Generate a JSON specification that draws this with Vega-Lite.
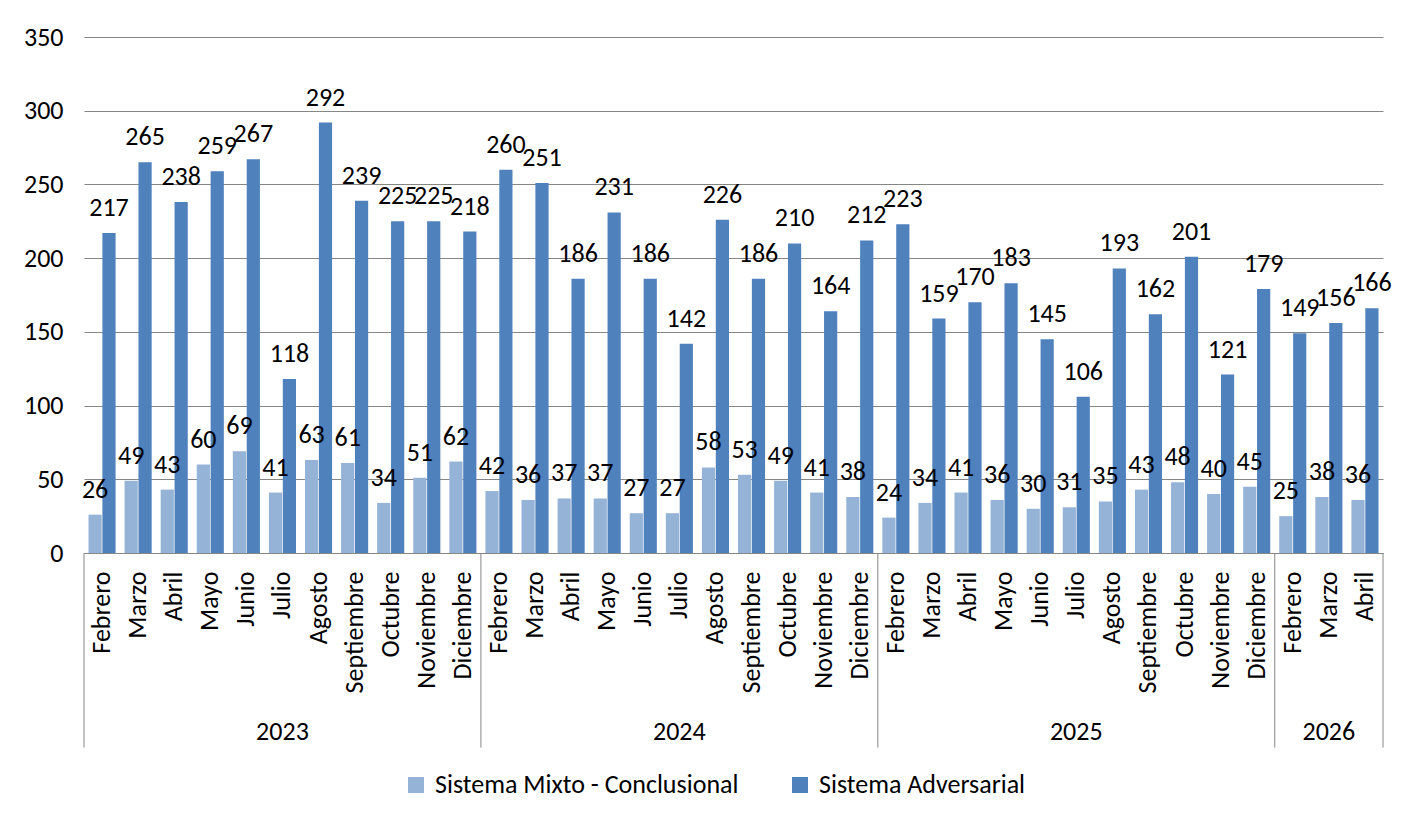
{
  "$schema": "https://vega.github.io/schema/vega-lite/v6.json",
  "width": 1299,
  "height": 516,
  "autosize": {"type": "none"},
  "padding": {"left": 84, "top": 37, "right": 34, "bottom": 270},
  "background": "white",
  "config": {
    "font": "Carlito, Lato",
    "view": {"stroke": null},
    "axisY": {
      "domain": false, "ticks": false, "labelPadding": 21, "labelFontSize": 26,
      "labelColor": "#000000", "gridColor": "#868686", "gridWidth": 1, "title": null
    },
    "axisX": {
      "domainColor": "#868686", "domainWidth": 1, "ticks": false, "labelAngle": -90,
      "labelPadding": 18, "labelFontSize": 26, "labelColor": "#000000", "grid": false,
      "title": null, "labelOverlap": false
    }
  },
  "data": {"values": [
    {"k": "2023-Febrero", "yr": "2023", "Sistema Mixto - Conclusional": 26, "Sistema Adversarial": 217},
    {"k": "2023-Marzo", "yr": "2023", "Sistema Mixto - Conclusional": 49, "Sistema Adversarial": 265},
    {"k": "2023-Abril", "yr": "2023", "Sistema Mixto - Conclusional": 43, "Sistema Adversarial": 238},
    {"k": "2023-Mayo", "yr": "2023", "Sistema Mixto - Conclusional": 60, "Sistema Adversarial": 259},
    {"k": "2023-Junio", "yr": "2023", "Sistema Mixto - Conclusional": 69, "Sistema Adversarial": 267},
    {"k": "2023-Julio", "yr": "2023", "Sistema Mixto - Conclusional": 41, "Sistema Adversarial": 118},
    {"k": "2023-Agosto", "yr": "2023", "Sistema Mixto - Conclusional": 63, "Sistema Adversarial": 292},
    {"k": "2023-Septiembre", "yr": "2023", "Sistema Mixto - Conclusional": 61, "Sistema Adversarial": 239},
    {"k": "2023-Octubre", "yr": "2023", "Sistema Mixto - Conclusional": 34, "Sistema Adversarial": 225},
    {"k": "2023-Noviembre", "yr": "2023", "Sistema Mixto - Conclusional": 51, "Sistema Adversarial": 225},
    {"k": "2023-Diciembre", "yr": "2023", "Sistema Mixto - Conclusional": 62, "Sistema Adversarial": 218},
    {"k": "2024-Febrero", "yr": "2024", "Sistema Mixto - Conclusional": 42, "Sistema Adversarial": 260},
    {"k": "2024-Marzo", "yr": "2024", "Sistema Mixto - Conclusional": 36, "Sistema Adversarial": 251},
    {"k": "2024-Abril", "yr": "2024", "Sistema Mixto - Conclusional": 37, "Sistema Adversarial": 186},
    {"k": "2024-Mayo", "yr": "2024", "Sistema Mixto - Conclusional": 37, "Sistema Adversarial": 231},
    {"k": "2024-Junio", "yr": "2024", "Sistema Mixto - Conclusional": 27, "Sistema Adversarial": 186},
    {"k": "2024-Julio", "yr": "2024", "Sistema Mixto - Conclusional": 27, "Sistema Adversarial": 142},
    {"k": "2024-Agosto", "yr": "2024", "Sistema Mixto - Conclusional": 58, "Sistema Adversarial": 226},
    {"k": "2024-Septiembre", "yr": "2024", "Sistema Mixto - Conclusional": 53, "Sistema Adversarial": 186},
    {"k": "2024-Octubre", "yr": "2024", "Sistema Mixto - Conclusional": 49, "Sistema Adversarial": 210},
    {"k": "2024-Noviembre", "yr": "2024", "Sistema Mixto - Conclusional": 41, "Sistema Adversarial": 164},
    {"k": "2024-Diciembre", "yr": "2024", "Sistema Mixto - Conclusional": 38, "Sistema Adversarial": 212},
    {"k": "2025-Febrero", "yr": "2025", "Sistema Mixto - Conclusional": 24, "Sistema Adversarial": 223},
    {"k": "2025-Marzo", "yr": "2025", "Sistema Mixto - Conclusional": 34, "Sistema Adversarial": 159},
    {"k": "2025-Abril", "yr": "2025", "Sistema Mixto - Conclusional": 41, "Sistema Adversarial": 170},
    {"k": "2025-Mayo", "yr": "2025", "Sistema Mixto - Conclusional": 36, "Sistema Adversarial": 183},
    {"k": "2025-Junio", "yr": "2025", "Sistema Mixto - Conclusional": 30, "Sistema Adversarial": 145},
    {"k": "2025-Julio", "yr": "2025", "Sistema Mixto - Conclusional": 31, "Sistema Adversarial": 106},
    {"k": "2025-Agosto", "yr": "2025", "Sistema Mixto - Conclusional": 35, "Sistema Adversarial": 193},
    {"k": "2025-Septiembre", "yr": "2025", "Sistema Mixto - Conclusional": 43, "Sistema Adversarial": 162},
    {"k": "2025-Octubre", "yr": "2025", "Sistema Mixto - Conclusional": 48, "Sistema Adversarial": 201},
    {"k": "2025-Noviembre", "yr": "2025", "Sistema Mixto - Conclusional": 40, "Sistema Adversarial": 121},
    {"k": "2025-Diciembre", "yr": "2025", "Sistema Mixto - Conclusional": 45, "Sistema Adversarial": 179},
    {"k": "2026-Febrero", "yr": "2026", "Sistema Mixto - Conclusional": 25, "Sistema Adversarial": 149},
    {"k": "2026-Marzo", "yr": "2026", "Sistema Mixto - Conclusional": 38, "Sistema Adversarial": 156},
    {"k": "2026-Abril", "yr": "2026", "Sistema Mixto - Conclusional": 36, "Sistema Adversarial": 166}
  ]},
  "encoding": {
    "x": {
      "field": "k", "type": "nominal", "sort": null,
      "scale": {
        "paddingInner": 0, "paddingOuter": 0,
        "domain": ["2023-Febrero","2023-Marzo","2023-Abril","2023-Mayo","2023-Junio","2023-Julio","2023-Agosto","2023-Septiembre","2023-Octubre","2023-Noviembre","2023-Diciembre",
                   "2024-Febrero","2024-Marzo","2024-Abril","2024-Mayo","2024-Junio","2024-Julio","2024-Agosto","2024-Septiembre","2024-Octubre","2024-Noviembre","2024-Diciembre",
                   "2025-Febrero","2025-Marzo","2025-Abril","2025-Mayo","2025-Junio","2025-Julio","2025-Agosto","2025-Septiembre","2025-Octubre","2025-Noviembre","2025-Diciembre",
                   "2026-Febrero","2026-Marzo","2026-Abril"]
      },
      "axis": {"labelExpr": "split(datum.label, '-')[1]"}
    }
  },
  "layer": [
    {
      "transform": [{"fold": ["Sistema Mixto - Conclusional", "Sistema Adversarial"], "as": ["serie", "valor"]}],
      "encoding": {
        "xOffset": {
          "field": "serie", "type": "nominal",
          "scale": {"domain": ["Sistema Mixto - Conclusional", "Sistema Adversarial"], "paddingInner": 0.05, "paddingOuter": 0.324}
        },
        "y": {
          "field": "valor", "type": "quantitative",
          "scale": {"domain": [0, 350], "nice": false},
          "axis": {"values": [0, 50, 100, 150, 200, 250, 300, 350], "grid": true}
        }
      },
      "layer": [
        {
          "mark": {"type": "bar"},
          "encoding": {
            "color": {
              "field": "serie", "type": "nominal",
              "scale": {"domain": ["Sistema Mixto - Conclusional", "Sistema Adversarial"], "range": ["#95B3D7", "#4F81BD"]},
              "legend": {
                "title": null, "orient": "none", "direction": "horizontal",
                "legendX": 319, "legendY": 735, "padding": 0,
                "symbolType": "square", "symbolSize": 256, "symbolStrokeWidth": 0,
                "labelFontSize": 26, "labelColor": "#000000", "labelOffset": 6, "columnPadding": 48,
                "labelLimit": 500
              }
            }
          }
        },
        {
          "mark": {"type": "text", "baseline": "alphabetic", "align": "center", "dy": -17, "fontSize": 26, "color": "#000000"},
          "encoding": {"text": {"field": "valor", "type": "quantitative"}}
        }
      ]
    },
    {
      "transform": [{"filter": {"field": "k", "oneOf": ["2023-Febrero", "2024-Febrero", "2025-Febrero", "2026-Febrero"]}}],
      "mark": {"type": "rule", "color": "#868686", "strokeWidth": 1},
      "encoding": {
        "x": {"field": "k", "type": "nominal", "bandPosition": 0},
        "y": {"datum": 0},
        "y2": {"datum": -132}
      }
    },
    {
      "transform": [{"filter": {"field": "k", "oneOf": ["2026-Abril"]}}],
      "mark": {"type": "rule", "color": "#868686", "strokeWidth": 1},
      "encoding": {
        "x": {"field": "k", "type": "nominal", "bandPosition": 1},
        "y": {"datum": 0},
        "y2": {"datum": -132}
      }
    },
    {
      "transform": [{"filter": {"field": "k", "oneOf": ["2023-Julio", "2024-Julio", "2025-Julio", "2026-Marzo"]}}],
      "mark": {"type": "text", "baseline": "alphabetic", "align": "center", "fontSize": 26, "color": "#000000"},
      "encoding": {
        "y": {"datum": -127},
        "text": {"field": "yr", "type": "nominal"}
      }
    }
  ]
}
